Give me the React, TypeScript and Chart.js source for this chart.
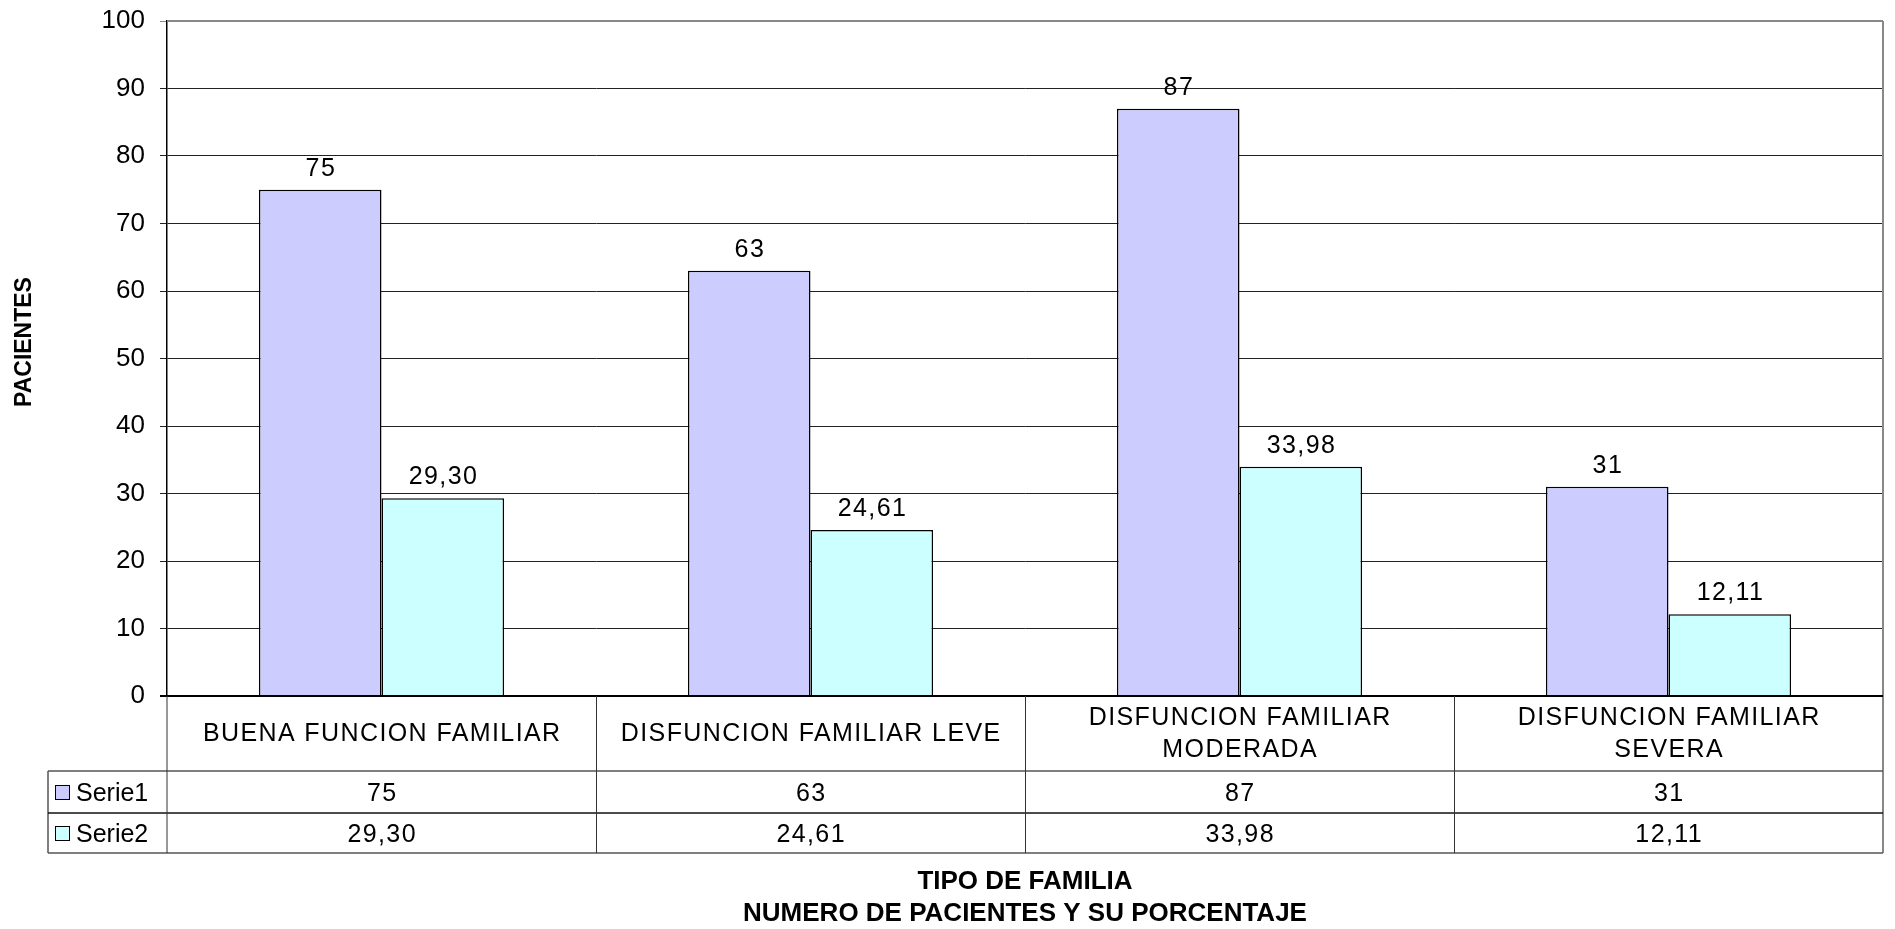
import React, { useEffect, useRef } from "react";
import { Chart, registerables } from "chart.js";

Chart.register(...registerables);

// ---------- data ----------
const categories = [
  "BUENA FUNCION FAMILIAR",
  "DISFUNCION FAMILIAR LEVE",
  "DISFUNCION FAMILIAR MODERADA",
  "DISFUNCION FAMILIAR SEVERA",
];
const categoryLines = [
  ["BUENA FUNCION FAMILIAR"],
  ["DISFUNCION FAMILIAR LEVE"],
  ["DISFUNCION FAMILIAR", "MODERADA"],
  ["DISFUNCION FAMILIAR", "SEVERA"],
];
const seriesNames = ["Serie1", "Serie2"];
const serie1 = [75, 63, 87, 31];
const serie2 = [29.3, 24.61, 33.98, 12.11];
const serie1Text = ["75", "63", "87", "31"];
const serie2Text = ["29,30", "24,61", "33,98", "12,11"];
const yMin = 0;
const yMax = 100;
const yStep = 10;
const yTitle = "PACIENTES";
const xTitleLines = ["TIPO DE FAMILIA", "NUMERO DE PACIENTES Y SU PORCENTAJE"];
const seriesColors = ["#CCCCFF", "#CCFFFF"];

const FONT = "'Liberation Sans', Arial, Helvetica, sans-serif";
const W = 1895;
const H = 929;

const tablePlugin = {
  id: "excelTable",
  afterDatasetsDraw(chart: any) {
    const ctx = chart.ctx as CanvasRenderingContext2D;
    const texts = [serie1Text, serie2Text];
    ctx.save();
    ctx.font = `25px ${FONT}`;
    (ctx as any).letterSpacing = "1.4px";
    ctx.fillStyle = "#000";
    ctx.textAlign = "center";
    ctx.textBaseline = "alphabetic";
    chart.data.datasets.forEach((_ds: any, di: number) => {
      const meta = chart.getDatasetMeta(di);
      meta.data.forEach((bar: any, i: number) => {
        ctx.fillText(texts[di][i], bar.x + 0.7, bar.y - 14);
      });
    });
    ctx.restore();
  },
  afterDraw(chart: any) {
    const ctx = chart.ctx as CanvasRenderingContext2D;
    const ca = chart.chartArea;
    const xs = chart.scales.x;
    const n = categories.length;
    const catW = (ca.right - ca.left) / n;
    const catRowH = 75;
    const rowH = 41;
    const r0 = ca.bottom;
    const r1 = r0 + catRowH;
    const r2 = r1 + rowH + 1;
    const r3 = r2 + rowH - 1;
    const legLeft = 48;

    ctx.save();
    // plot frame: top and right grey
    ctx.strokeStyle = "#888";
    ctx.lineWidth = 2;
    ctx.beginPath();
    ctx.moveTo(ca.left, ca.top);
    ctx.lineTo(ca.right, ca.top);
    ctx.moveTo(ca.right, ca.top);
    ctx.lineTo(ca.right, r3);
    ctx.stroke();

    // x axis line
    ctx.strokeStyle = "#000";
    ctx.lineWidth = 2;
    ctx.beginPath();
    ctx.moveTo(ca.left - 7, r0);
    ctx.lineTo(ca.right, r0);
    ctx.stroke();

    // table horizontal lines
    ctx.lineWidth = 1.5;
    ctx.strokeStyle = "#555";
    ctx.beginPath();
    ctx.moveTo(legLeft, r1);
    ctx.lineTo(ca.right, r1);
    ctx.moveTo(legLeft, r3);
    ctx.lineTo(ca.right, r3);
    ctx.moveTo(legLeft, r1);
    ctx.lineTo(legLeft, r3);
    ctx.stroke();
    ctx.strokeStyle = "#111";
    ctx.beginPath();
    ctx.moveTo(legLeft, r2);
    ctx.lineTo(ca.right, r2);
    ctx.stroke();

    // vertical lines
    ctx.strokeStyle = "#333";
    ctx.lineWidth = 1;
    ctx.beginPath();
    ctx.moveTo(ca.left, r0);
    ctx.lineTo(ca.left, r3);
    for (let i = 1; i < n; i++) {
      const bx = Math.round(xs.getPixelForValue(i) - catW / 2) + 0.5;
      ctx.moveTo(bx, r0);
      ctx.lineTo(bx, r3);
    }
    ctx.stroke();

    // category labels
    ctx.fillStyle = "#000";
    ctx.font = `25px ${FONT}`;
    (ctx as any).letterSpacing = "1.4px";
    ctx.textAlign = "center";
    ctx.textBaseline = "middle";
    const lineH = 32;
    categoryLines.forEach((lines, i) => {
      const cx = xs.getPixelForValue(i) + 0.7;
      const cy = (r0 + r1) / 2;
      const start = cy - ((lines.length - 1) * lineH) / 2;
      lines.forEach((t, k) => ctx.fillText(t, cx, start + k * lineH + 1));
    });

    // series values
    const rowsText = [serie1Text, serie2Text];
    const rowTops = [r1, r2];
    const rowBots = [r2, r3];
    rowsText.forEach((row, ri) => {
      const cy = (rowTops[ri] + rowBots[ri]) / 2 + 2;
      row.forEach((t, i) => ctx.fillText(t, xs.getPixelForValue(i) + 0.7, cy));
    });

    // legend keys
    (ctx as any).letterSpacing = "0px";
    ctx.textAlign = "left";
    seriesNames.forEach((name, ri) => {
      const cy = (rowTops[ri] + rowBots[ri]) / 2;
      ctx.fillStyle = seriesColors[ri];
      ctx.fillRect(55, cy - 7, 14, 14);
      ctx.strokeStyle = "#000";
      ctx.lineWidth = 1;
      ctx.strokeRect(55.5, cy - 6.5, 14, 14);
      ctx.fillStyle = "#000";
      ctx.fillText(name, 76, cy + 2);
    });

    // y title
    ctx.save();
    ctx.font = `bold 23px ${FONT}`;
    ctx.textAlign = "center";
    ctx.textBaseline = "middle";
    ctx.translate(25, 342);
    ctx.rotate(-Math.PI / 2);
    ctx.fillText(yTitle, 0, 0);
    ctx.restore();

    // x titles
    ctx.font = `bold 26px ${FONT}`;
    ctx.textAlign = "center";
    ctx.textBaseline = "middle";
    const tx = (ca.left + ca.right) / 2;
    ctx.fillText(xTitleLines[0], tx, 882);
    ctx.fillText(xTitleLines[1], tx, 914);
    ctx.restore();
  },
};

export default function App() {
  const ref = useRef<HTMLCanvasElement | null>(null);

  useEffect(() => {
    document.body.style.margin = "0";
    document.body.style.overflow = "hidden";
    const canvas = ref.current;
    if (!canvas) return;
    const chart = new Chart(canvas, {
      type: "bar",
      data: {
        labels: categories,
        datasets: [
          {
            label: seriesNames[0],
            data: serie1,
            backgroundColor: seriesColors[0],
            borderColor: "#000",
            borderWidth: 1.5,
            categoryPercentage: 2 / 3.5,
            barPercentage: 1,
          },
          {
            label: seriesNames[1],
            data: serie2,
            backgroundColor: seriesColors[1],
            borderColor: "#000",
            borderWidth: 1.5,
            categoryPercentage: 2 / 3.5,
            barPercentage: 1,
          },
        ],
      },
      options: {
        responsive: false,
        animation: false,
        devicePixelRatio: 1,
        layout: { padding: { left: 0, top: 21, right: 12, bottom: 0 } },
        plugins: {
          legend: { display: false },
          tooltip: { enabled: false },
          title: { display: false },
        },
        scales: {
          x: {
            type: "category",
            grid: { display: false },
            border: { display: false },
            ticks: { display: false },
            afterFit: (scale: any) => {
              scale.height = 233;
            },
          },
          y: {
            min: yMin,
            max: yMax,
            ticks: {
              stepSize: yStep,
              color: "#000",
              padding: 15,
              font: { family: FONT, size: 26 },
            },
            grid: {
              color: (c: any) => (c.tick && c.tick.value === yMax ? "#888" : "#222"),
              lineWidth: 1,
              tickLength: 7,
              drawTicks: true,
            },
            border: { display: true, color: "#000", width: 1.5 },
            afterFit: (scale: any) => {
              scale.width = 167;
              scale.paddingTop = 8;
              scale.paddingBottom = 8;
            },
          },
        },
      },
      plugins: [tablePlugin],
    } as any);
    return () => chart.destroy();
  }, []);

  return (
    <canvas
      ref={ref}
      width={W}
      height={H}
      style={{ display: "block", width: W, height: H }}
    />
  );
}
